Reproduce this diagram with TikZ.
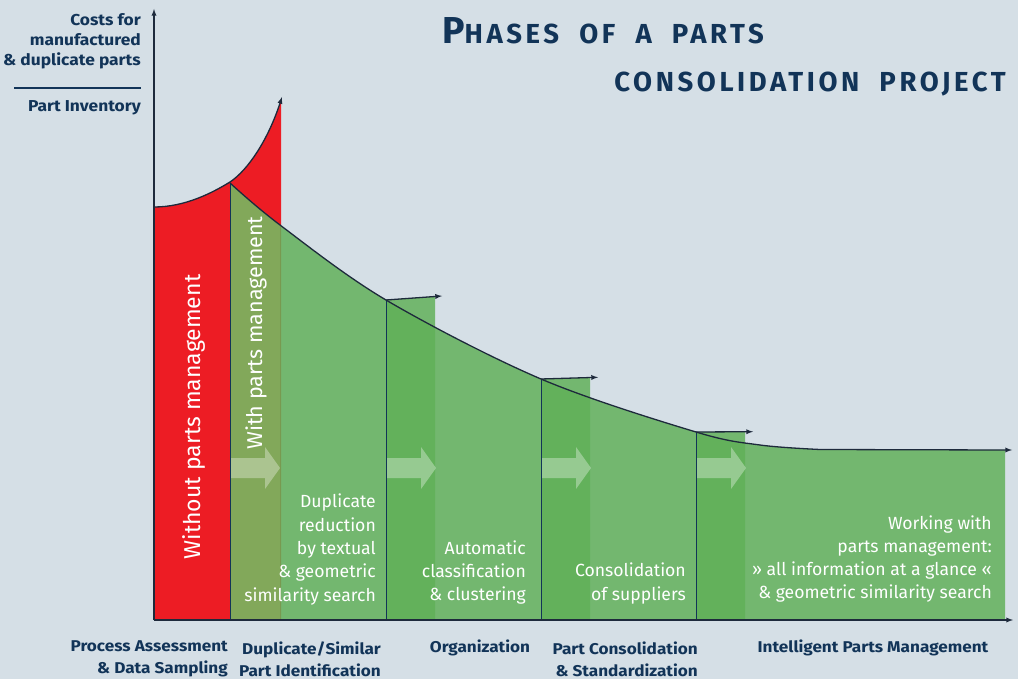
\documentclass[tikz,border=0pt]{standalone}
\usepackage{fontspec}
\setmainfont{Fira Sans}
\newfontfamily\titlefont[LetterSpace=13,WordSpace=2]{Fira Sans}
\newfontfamily\lblfont[FakeStretch=1.1]{Fira Sans}

\definecolor{bgblue}{RGB}{213,223,230}
\definecolor{navy}{RGB}{18,52,88}
\definecolor{linecol}{RGB}{30,42,60}
\definecolor{redfill}{RGB}{237,28,36}
\definecolor{olivefill}{RGB}{130,168,90}
\definecolor{bandgreen}{RGB}{96,176,88}

\begin{document}
\begin{tikzpicture}[x=1pt,y=-1pt,
	axlbl/.style={font=\lblfont\bfseries\fontsize{15.8}{20}\selectfont,text=navy,align=right,inner sep=0},
	phlbl/.style={font=\lblfont\bfseries\fontsize{15.6}{22}\selectfont,text=navy,align=right,inner sep=0},
	wtxt/.style={font=\fontsize{17.6}{23.3}\selectfont,text=white,align=right,inner sep=0},
	rottxt/.style={font=\fontsize{23}{24}\selectfont,text=white,rotate=90,inner sep=0},
	ttl/.style={font=\titlefont\bfseries\fontsize{27.5}{30}\selectfont,text=navy,inner sep=0},
	curve/.style={linecol,line width=1.3pt},
	sep/.style={navy,line width=1pt},
	% the falling cost curve (with parts management)
	gcurve/.style={insert path={-- plot[smooth,tension=.55] coordinates {(230,183) (280,225) (386,300) (541,379) (696,432) (760,445) (820,449.5)} -- (1005,450)}}]
	\useasboundingbox (0,0) rectangle (1018,679);
	\fill[bgblue] (0,0) rectangle (1018,679);

	%red area: costs without parts management
	\fill[redfill] (154,620) -- (154,207) .. controls (185,207) and (212,193) .. (230,182)
		.. controls (248,170) and (268,140) .. (281,100) -- (281,620) -- cycle;

	%green area under the falling curve
	\fill[bandgreen,fill opacity=.83] (230,620) [gcurve] -- (1005,620) -- cycle;
	\begin{scope}
	\clip (230,0) rectangle (280,620);
	\fill[olivefill] (230,620) [gcurve] -- (1005,620) -- cycle;
	\end{scope}

	%darker bands at the start of each phase
	\foreach \x/\ya/\yb in {386/300/296.4, 541/379/377.6, 696/432/431.8}{
		\fill[bandgreen,fill opacity=.83] (\x,\ya) -- (\x+49,\yb) -- (\x+49,620) -- (\x,620) -- cycle;
	}

	%light block arrows
	\foreach \x in {230,386,541,696}{
		\fill[white,fill opacity=.33] (\x,458) -- (\x+35,458) -- (\x+35,447) -- (\x+50,468)
			-- (\x+35,489) -- (\x+35,478) -- (\x,478) -- cycle;
	}

	%phase borders
	\draw[sep] (230,183) -- (230,620);
	\draw[sep] (386,300) -- (386,620);
	\draw[sep] (541,379) -- (541,620);
	\draw[sep] (696,432) -- (696,620);

	%curves and small arrows
	\draw[curve,-latex] (154,207) .. controls (185,207) and (212,193) .. (230,182)
		.. controls (248,170) and (268,140) .. (282,97);
	\draw[curve,-latex] (230,183) [gcurve] -- (1012,450);
	\draw[curve,-latex] (386,300) -- (442,296);
	\draw[curve,-latex] (541,379) -- (598,377.3);
	\draw[curve,-latex] (696,432) -- (753,431.7);

	%axes
	\draw[curve,-latex] (154,620) -- (154,9);
	\draw[curve,-latex] (154,620) -- (1013,620);

	%axis labels
	\node[axlbl,anchor=east] (costlbl) at (141,41) {Costs for\\manufactured\\\& duplicate parts};
	\draw[navy,line width=1.5pt] (14,88) -- (141,88);
	\node[axlbl,anchor=east] (invlbl) at (141,108) {Part Inventory};

	%title
	\node[ttl,anchor=base west] (titleA) at (442,44) {{\fontsize{37.5}{38}\selectfont P}HASES OF A PARTS};
	\node[ttl,anchor=base east] (titleB) at (1006,92) {CONSOLIDATION PROJECT};

	%texts in the areas
	\node[rottxt] (without) at (194,417) {Without parts management};
	\node[rottxt,font=\fontsize{21.5}{24}\selectfont] (withpm) at (256,333) {With parts management};
	\node[wtxt,anchor=east] (dupl) at (376,549.5) {Duplicate\\reduction\\by textual\\\& geometric\\similarity search};
	\node[wtxt,anchor=east] (autocl) at (526,572.5) {Automatic\\classification\\\& clustering};
	\node[wtxt,anchor=east] (consol) at (686,583.5) {Consolidation\\of suppliers};
	\node[wtxt,anchor=east] (working) at (992,559) {Working with\\parts management:\\» all information at a glance «\\\& geometric similarity search};

	%phase names
	\node[phlbl,anchor=east] (phA) at (228,659) {Process Assessment\\\& Data Sampling};
	\node[phlbl,anchor=east] (phB) at (381,659) {Duplicate/Similar\\Part Identification};
	\node[phlbl] (phC) at (480,648) {Organization};
	\node[phlbl,anchor=east] (phD) at (698,659) {Part Consolidation\\\& Standardization};
	\node[phlbl] (phE) at (873,648) {Intelligent Parts Management};
\end{tikzpicture}
\end{document}
